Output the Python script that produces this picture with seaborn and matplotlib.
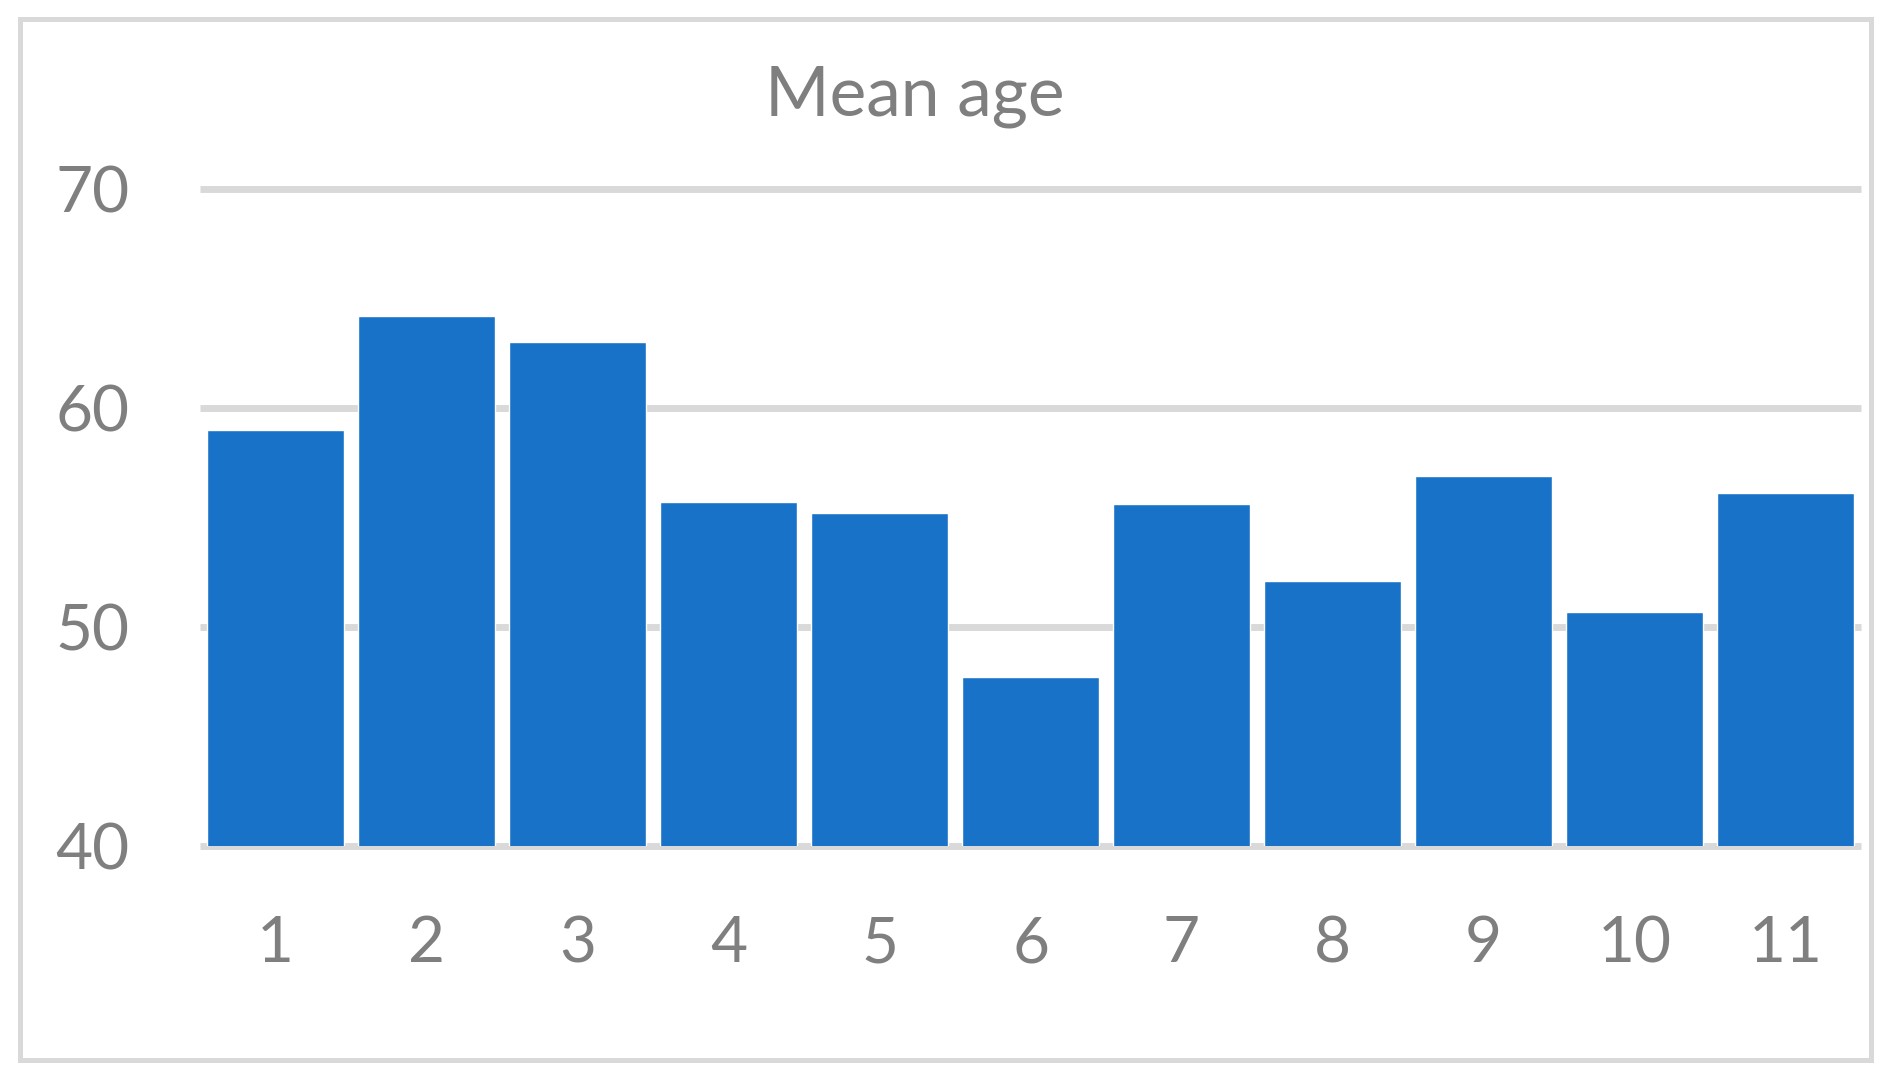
import seaborn as sns
import matplotlib.pyplot as plt
import pandas as pd
from matplotlib.patches import Rectangle

# data
groups = ['1', '2', '3', '4', '5', '6', '7', '8', '9', '10', '11']
mean_age = [59.0, 64.2, 63.0, 55.7, 55.2, 47.7, 55.6, 52.1, 56.9, 50.7, 56.1]
y_ticks = [40, 50, 60, 70]

df = pd.DataFrame({'group': groups, 'mean_age': mean_age})

sns.set_style('white')
plt.rcParams['font.family'] = ['Lato', 'DejaVu Sans']

grey = '#d9d9d9'
text_grey = '#7f7f7f'

fig = plt.figure(figsize=(18.89, 10.73), dpi=100)
ax = fig.add_axes([0.1059, 0.2116, 0.8793, 0.6123])

# bars start at 40 like the original axis
sns.barplot(data=df, x='group', y='mean_age', color='#1873C8', saturation=1,
            width=0.91, ax=ax, zorder=3)

ax.set_ylim(40, 70)
ax.set_xlim(-0.5, len(groups) - 0.5)
ax.set_yticks(y_ticks)
ax.set_axisbelow(True)
for y in y_ticks:
    ax.axhline(y, color=grey, linewidth=5, zorder=0, clip_on=False,
               solid_capstyle='butt')
ax.grid(False)
for s in ax.spines.values():
    s.set_visible(False)

ax.tick_params(axis='both', length=0, labelsize=46, labelcolor=text_grey)
ax.tick_params(axis='y', pad=51)
ax.tick_params(axis='x', pad=50)
ax.set_xlabel('')
ax.set_ylabel('')

fig.text(0.484, 0.910, 'Mean age', ha='center', va='center', fontsize=50, color=text_grey)

# light grey frame around the whole chart
fig.add_artist(Rectangle((0.0106, 0.0121), 0.9799, 0.9706, transform=fig.transFigure,
                         fill=False, edgecolor=grey, linewidth=3.6))

fig.savefig('out.png', dpi=100)
